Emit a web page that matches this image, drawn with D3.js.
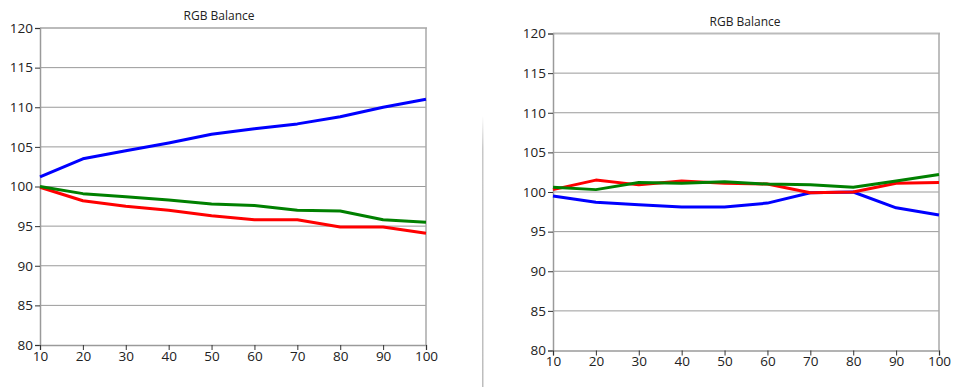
<!DOCTYPE html>
<html>
<head>
<meta charset="utf-8">
<script src="https://cdn.jsdelivr.net/npm/d3@7"></script>
<style>
  body { margin: 0; background: #fff; }
  svg text { font-family: "Open Sans", sans-serif; fill: #222; }
</style>
</head>
<body>
<div class="canvas"></div>
<script>
const xValues = [10, 20, 30, 40, 50, 60, 70, 80, 90, 100];
const yTicks = [80, 85, 90, 95, 100, 105, 110, 115, 120];

// left chart
const leftRed = [99.9, 98.2, 97.5, 97.0, 96.3, 95.8, 95.8, 94.9, 94.9, 94.1];
const leftGreen = [100.0, 99.1, 98.7, 98.3, 97.8, 97.6, 97.0, 96.9, 95.8, 95.5];
const leftBlue = [101.2, 103.5, 104.5, 105.5, 106.6, 107.3, 107.9, 108.8, 110.0, 111.0];

// right chart
const rightRed = [100.3, 101.5, 100.9, 101.4, 101.1, 101.0, 99.9, 100.0, 101.1, 101.2];
const rightGreen = [100.6, 100.3, 101.2, 101.1, 101.3, 101.0, 100.9, 100.6, 101.4, 102.2];
const rightBlue = [99.5, 98.7, 98.4, 98.1, 98.1, 98.6, 99.9, 100.0, 98.0, 97.1];

const svg = d3.select('.canvas')
    .append('svg')
    .attr('width', 972)
    .attr('height', 387)

// separator between the two panels
const grad = svg.append('defs').append('linearGradient')
    .attr('id', 'sepFade')
    .attr('x1', 0).attr('y1', 0).attr('x2', 0).attr('y2', 1)
grad.append('stop').attr('offset', '0%').attr('stop-color', '#fff')
grad.append('stop').attr('offset', '12%').attr('stop-color', '#c8c8c8')
grad.append('stop').attr('offset', '100%').attr('stop-color', '#bdbdbd')
svg.append('rect')
    .attr('x', 482).attr('y', 116)
    .attr('width', 1.5).attr('height', 271)
    .attr('fill', 'url(#sepFade)')

const drawChart = (box, series) => {
    const x = d3.scaleLinear().domain([10, 100]).range([box.left, box.right])
    const y = d3.scaleLinear().domain([80, 120]).range([box.bottom, box.top])

    const g = svg.append('g')

    // gridlines
    g.selectAll('line.grid')
        .data(yTicks.filter(t => t > 80 && t < 120))
        .enter().append('line')
        .attr('class', 'grid')
        .attr('x1', box.left).attr('x2', box.right)
        .attr('y1', d => y(d)).attr('y2', d => y(d))
        .attr('stroke', '#9a9a9a')
        .attr('stroke-width', 1)

    // top and right border
    g.append('line')
        .attr('x1', box.left).attr('x2', box.right + 1)
        .attr('y1', y(120)).attr('y2', y(120))
        .attr('stroke', '#bbb').attr('stroke-width', 2)
    g.append('line')
        .attr('x1', box.right).attr('x2', box.right)
        .attr('y1', y(120)).attr('y2', y(80))
        .attr('stroke', '#a8a8a8').attr('stroke-width', 1.5)

    // y axis
    const yAxis = g.append('g')
        .attr('transform', `translate(${box.left},0)`)
        .call(d3.axisLeft(y).tickValues(yTicks).tickSize(5).tickPadding(2))
    yAxis.select('.domain').attr('stroke', '#9a9a9a').attr('stroke-width', 1.5)
    yAxis.selectAll('.tick line').attr('stroke', '#333')
    yAxis.selectAll('text').attr('font-size', 13.5).attr('fill', '#222')

    // x axis
    const xAxis = g.append('g')
        .attr('transform', `translate(0,${box.bottom})`)
        .call(d3.axisBottom(x).tickValues(xValues).tickSize(5).tickPadding(1))
    xAxis.select('.domain').attr('stroke', '#9a9a9a').attr('stroke-width', 1.5)
    xAxis.selectAll('.tick line').attr('stroke', '#333')
    xAxis.selectAll('text').attr('font-size', 13.5).attr('fill', '#222')

    // title
    g.append('text')
        .attr('x', box.title).attr('y', box.top - 8)
        .attr('text-anchor', 'middle')
        .attr('font-size', 12)
        .text('RGB Balance')

    const line = d3.line()
        .x((d, i) => x(xValues[i]))
        .y(d => y(d))

    series.forEach(s => {
        g.append('path')
            .attr('d', line(s.values))
            .attr('fill', 'none')
            .attr('stroke', s.colour)
            .attr('stroke-width', 3)
            .attr('stroke-linejoin', 'round')
    })
}

drawChart({ left: 40, right: 426, top: 28, bottom: 345, title: 219 }, [
    { colour: '#0000ff', values: leftBlue },
    { colour: '#ff0000', values: leftRed },
    { colour: '#008000', values: leftGreen }
])

drawChart({ left: 553, right: 939, top: 33.5, bottom: 350.5, title: 745 }, [
    { colour: '#0000ff', values: rightBlue },
    { colour: '#ff0000', values: rightRed },
    { colour: '#008000', values: rightGreen }
])
</script>
</body>
</html>
